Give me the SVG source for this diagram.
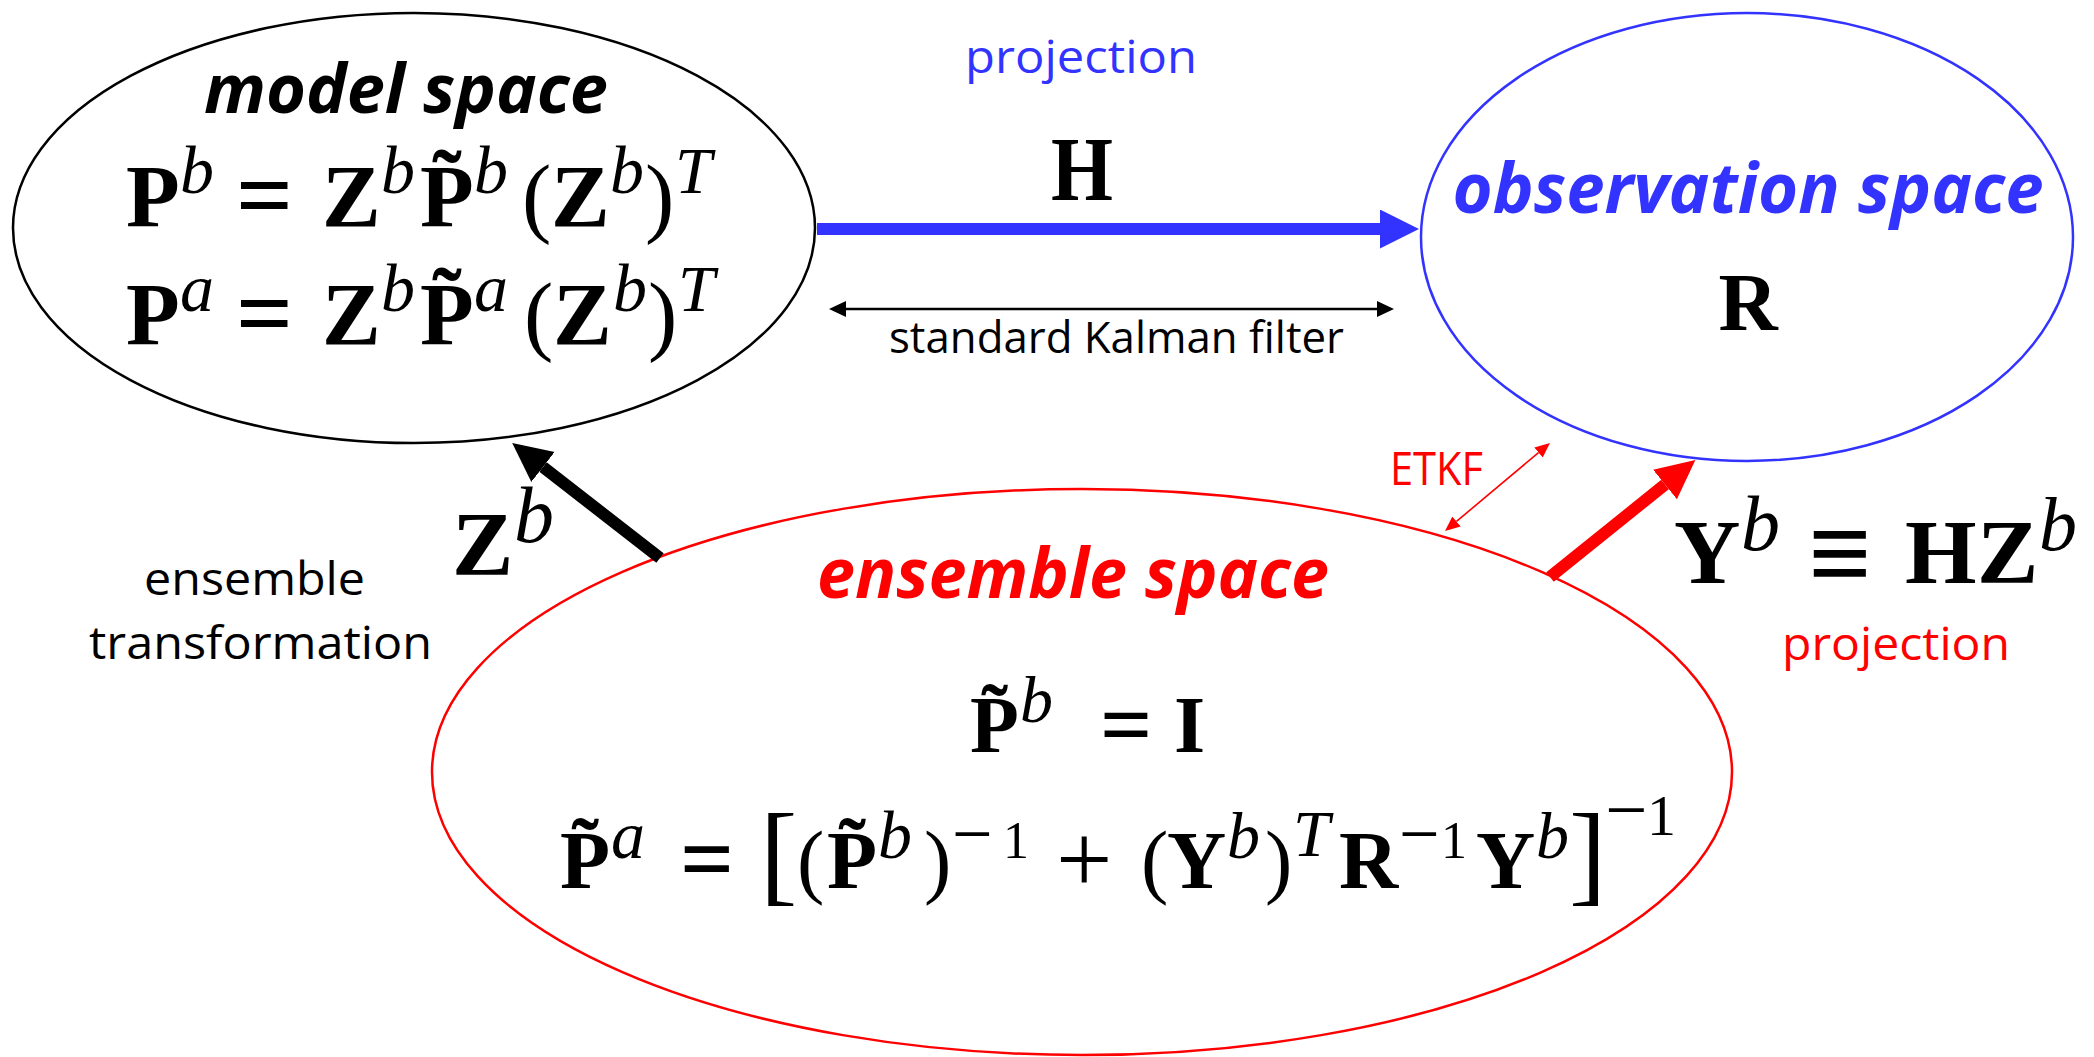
<svg xmlns="http://www.w3.org/2000/svg" width="2094" height="1057" viewBox="0 0 2094 1057">
<style>
.bg{fill:#fff}
.node{fill:none;stroke-width:2.5}
.m{font-family:"Liberation Serif","DejaVu Serif",serif;font-weight:bold;fill:#000}
.i{font-style:italic;font-weight:normal}
.r{font-weight:normal}
.ttl{font-family:"Open Sans","Noto Sans",sans-serif;font-weight:bold;font-style:italic}
.lbl{font-family:"Open Sans","Noto Sans",sans-serif;font-weight:normal}
.blue{fill:#3333ff}
.red{fill:#ff0000}
.blk{fill:#000}
</style>
<defs>
<marker id="hBlue" markerUnits="userSpaceOnUse" markerWidth="40" markerHeight="40" refX="0" refY="19.5" orient="auto"><path d="M0,0 L39,19.5 L0,39 z" fill="#3333ff"/></marker>
<marker id="hBlack" markerUnits="userSpaceOnUse" markerWidth="40" markerHeight="40" refX="0" refY="19" orient="auto"><path d="M0,0 L39,19 L0,38 z" fill="#000"/></marker>
<marker id="hRed" markerUnits="userSpaceOnUse" markerWidth="40" markerHeight="40" refX="0" refY="19" orient="auto"><path d="M0,0 L39,19 L0,38 z" fill="#ff0000"/></marker>
<marker id="hThinK" markerUnits="userSpaceOnUse" markerWidth="18" markerHeight="18" refX="0" refY="8" orient="auto-start-reverse"><path d="M0,0 L17,8 L0,16 z" fill="#000"/></marker>
<marker id="hThinR" markerUnits="userSpaceOnUse" markerWidth="16" markerHeight="16" refX="0" refY="6.5" orient="auto-start-reverse"><path d="M0,0 L15,6.5 L0,13 z" fill="#ff0000"/></marker>
</defs>
<rect class="bg" x="0" y="0" width="2094" height="1057"/>

<g id="model-space">
<ellipse class="node" cx="414" cy="228" rx="401" ry="215" stroke="#000"/>
<text class="ttl blk" x="406" y="113" font-size="68" text-anchor="middle" textLength="404" lengthAdjust="spacingAndGlyphs">model space</text>
<text class="m" font-size="88" y="226"><tspan x="126">P</tspan><tspan class="i" font-size="68" x="180" y="193">b</tspan><tspan font-size="100" x="236" y="229">=</tspan><tspan x="322" y="226">Z</tspan><tspan class="i" font-size="68" x="381" y="193">b</tspan><tspan x="420" y="226">P̃</tspan><tspan class="i" font-size="68" x="474" y="193">b</tspan><tspan class="r" x="522" y="226">(</tspan><tspan x="551">Z</tspan><tspan class="i" font-size="68" x="610" y="193">b</tspan><tspan class="r" x="645" y="226">)</tspan><tspan class="i" font-size="66" x="675" y="193">T</tspan></text>
<text class="m" font-size="88" y="344"><tspan x="126">P</tspan><tspan class="i" font-size="68" x="180" y="311">a</tspan><tspan font-size="100" x="236" y="347">=</tspan><tspan x="322" y="344">Z</tspan><tspan class="i" font-size="68" x="381" y="311">b</tspan><tspan x="420" y="344">P̃</tspan><tspan class="i" font-size="68" x="474" y="311">a</tspan><tspan class="r" x="524" y="344">(</tspan><tspan x="553">Z</tspan><tspan class="i" font-size="68" x="613" y="311">b</tspan><tspan class="r" x="648" y="344">)</tspan><tspan class="i" font-size="66" x="678" y="311">T</tspan></text>
</g>

<g id="observation-space">
<ellipse class="node" cx="1747" cy="237" rx="326" ry="224" stroke="#3333ff"/>
<text class="ttl blue" x="1748" y="213" font-size="70" text-anchor="middle" textLength="591" lengthAdjust="spacingAndGlyphs">observation space</text>
<text class="m" x="1748" y="330" font-size="82" text-anchor="middle">R</text>
</g>

<g id="ensemble-space">
<ellipse class="node" cx="1082" cy="772" rx="650" ry="283" stroke="#ff0000"/>
<text class="ttl red" x="1073" y="598" font-size="70" text-anchor="middle" textLength="512" lengthAdjust="spacingAndGlyphs">ensemble space</text>
<text class="m" font-size="80" y="752"><tspan x="970">P̃</tspan><tspan class="i" font-size="66" x="1020" y="722">b</tspan><tspan font-size="92" x="1100" y="755">=</tspan><tspan x="1174" y="752">I</tspan></text>
<text class="m" font-size="82" y="888"><tspan x="560">P̃</tspan><tspan class="i" font-size="68" x="611" y="858">a</tspan><tspan font-size="95" x="680" y="891">=</tspan><tspan class="r" font-size="112" x="760" y="891">[</tspan><tspan class="r" x="797" y="888">(</tspan><tspan x="827">P̃</tspan><tspan class="i" font-size="68" x="878" y="858">b</tspan><tspan class="r" x="924" y="888">)</tspan><tspan class="r" font-size="72" x="952" y="858">−</tspan><tspan class="r" font-size="52" x="1003" y="858">1</tspan><tspan class="r" font-size="100" x="1056" y="893">+</tspan><tspan class="r" x="1141" y="888">(</tspan><tspan x="1167">Y</tspan><tspan class="i" font-size="66" x="1227" y="858">b</tspan><tspan class="r" x="1265" y="888">)</tspan><tspan class="i" font-size="66" x="1293" y="856">T</tspan><tspan x="1339" y="888">R</tspan><tspan class="r" font-size="72" x="1399" y="858">−</tspan><tspan class="r" font-size="52" x="1441" y="858">1</tspan><tspan x="1476" y="888">Y</tspan><tspan class="i" font-size="66" x="1536" y="858">b</tspan><tspan class="r" font-size="112" x="1569" y="891">]</tspan><tspan class="r" font-size="75" x="1605" y="835">−</tspan><tspan class="r" font-size="58" x="1647" y="835">1</tspan></text>
</g>

<g id="connectors">
<line x1="817" y1="229" x2="1380" y2="229" stroke="#3333ff" stroke-width="12" marker-end="url(#hBlue)"/>
<line x1="846" y1="309" x2="1377" y2="309" stroke="#000" stroke-width="2.5" marker-start="url(#hThinK)" marker-end="url(#hThinK)"/>
<line x1="660" y1="558" x2="543" y2="467" stroke="#000" stroke-width="12" marker-end="url(#hBlack)"/>
<line x1="1550" y1="577" x2="1665" y2="484.5" stroke="#ff0000" stroke-width="12" marker-end="url(#hRed)"/>
<line x1="1456.5" y1="521.4" x2="1538.5" y2="452.6" stroke="#ff0000" stroke-width="1.6" marker-start="url(#hThinR)" marker-end="url(#hThinR)"/>

<text class="lbl blue" x="965" y="73" font-size="46" textLength="232" lengthAdjust="spacingAndGlyphs">projection</text>
<text class="m" x="1082" y="200" font-size="92" text-anchor="middle" textLength="62" lengthAdjust="spacingAndGlyphs">H</text>
<text class="lbl blk" x="889" y="353" font-size="44" textLength="455" lengthAdjust="spacingAndGlyphs">standard Kalman filter</text>
<text class="m" font-size="92" y="575"><tspan x="452">Z</tspan><tspan class="i" font-size="80" x="514" y="542">b</tspan></text>
<text class="lbl blk" x="144" y="595" font-size="46" textLength="221" lengthAdjust="spacingAndGlyphs">ensemble</text>
<text class="lbl blk" x="89" y="659" font-size="46" textLength="343" lengthAdjust="spacingAndGlyphs">transformation</text>
<text class="lbl red" x="1390" y="485" font-size="45" textLength="93" lengthAdjust="spacingAndGlyphs">ETKF</text>
<text class="m" font-size="92" y="583"><tspan x="1674">Y</tspan><tspan class="i" font-size="78" x="1741" y="550">b</tspan><tspan font-size="112" x="1808" y="591">≡</tspan><tspan x="1905" y="583">H</tspan><tspan x="1977">Z</tspan><tspan class="i" font-size="76" x="2039" y="550">b</tspan></text>
<text class="lbl red" x="1782" y="660" font-size="46" textLength="228" lengthAdjust="spacingAndGlyphs">projection</text>
</g>
</svg>
